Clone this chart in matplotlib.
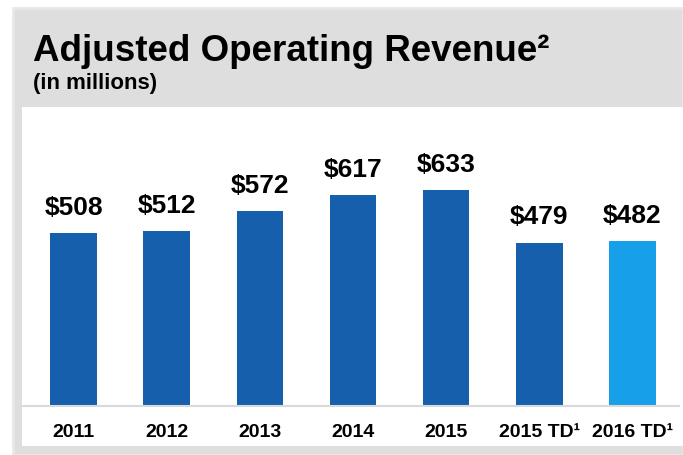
import matplotlib
matplotlib.use('Agg')
import matplotlib.pyplot as plt
from matplotlib.patches import Rectangle

# data
categories = ['2011', '2012', '2013', '2014', '2015', '2015 TD\u00b9', '2016 TD\u00b9']
revenue = [508, 512, 572, 617, 633, 479, 482]

dark_blue = '#155FAD'
light_blue = '#17A0E9'
bar_colors = [dark_blue] * 6 + [light_blue]

plt.rcParams['font.family'] = ['Liberation Sans', 'DejaVu Sans']
plt.rcParams['font.weight'] = 'bold'

W, H = 683, 455
fig = plt.figure(figsize=(W / 100, H / 100), dpi=100)
fig.patch.set_facecolor('white')

def fx(px):
    return px / W

def fy(py):
    return 1 - py / H

# grey panel and white plotting card
fig.patches.append(Rectangle((fx(13), 0), 1 - fx(13), fy(8), transform=fig.transFigure,
                             facecolor='#DEDEDE', edgecolor='#E8E8E8', linewidth=2, zorder=0))
fig.patches.append(Rectangle((fx(22), fy(446)), 1 - fx(22), fy(107) - fy(446),
                             transform=fig.transFigure, facecolor='white', edgecolor='none', zorder=1))

fig.text(fx(33), fy(61), 'Adjusted Operating Revenue\u00b2', fontsize=26.5, fontweight='bold',
         ha='left', va='baseline', color='black')
fig.text(fx(33), fy(89), '(in millions)', fontsize=16, fontweight='bold',
         ha='left', va='baseline', color='black')

ax = fig.add_axes([fx(22), fy(406), fx(679) - fx(22), fy(107) - fy(406)])
ax.set_zorder(3)
ax.patch.set_alpha(0)

x = list(range(len(categories)))
bars = ax.bar(x, revenue, width=0.5, color=bar_colors, zorder=2)

for xi, v in zip(x, revenue):
    ax.annotate(f'${v}', (xi, v), xytext=(0, 13), textcoords='offset points',
                ha='center', va='baseline', fontsize=19, fontweight='bold', color='black')

ax.set_xlim(-0.553, 6.499)
ax.set_ylim(0, 876)
ax.set_xticks(x)
ax.set_xticklabels(categories, fontsize=14, fontweight='bold')
ax.tick_params(axis='x', length=0, pad=13)
ax.set_yticks([])
for s in ['top', 'left', 'right']:
    ax.spines[s].set_visible(False)
ax.spines['bottom'].set_color('#D9D9D9')
ax.spines['bottom'].set_linewidth(1.5)
ax.spines['bottom'].set_zorder(3)

fig.savefig('out.png', dpi=100)
